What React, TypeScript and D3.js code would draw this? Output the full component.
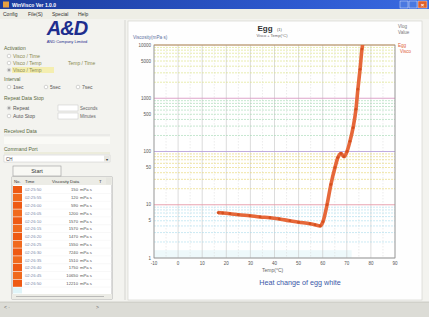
import * as d3 from "d3";

// curve: temperature (°C) vs viscosity (mPa·s)
const tempC = [16.6, 18.5, 21.5, 25, 29.8, 34, 38.1, 42, 46.4, 50, 54.7, 56.8, 58.9, 60.1, 61.8, 63.4, 65.1, 66.3, 67.6, 68.8, 70.1, 71.3, 72.6, 73.8, 74.6, 75.5, 76.3, 76.7];
const viscosity = [7.1, 7.0, 6.8, 6.5, 6.2, 5.9, 5.7, 5.4, 5.0, 4.7, 4.4, 4.2, 4.0, 4.8, 10, 24, 50, 77, 92, 80, 100, 155, 280, 620, 1480, 3500, 8400, 11000];

const xTicks = [-10, 0, 10, 20, 30, 40, 50, 60, 70, 80, 90];
const yTicks = [1, 5, 10, 50, 100, 500, 1000, 5000, 10000];
const yTickLabels = ["1", "5", "10", "50", "100", "500", "1000", "5000", "10000"];
const decades = [1, 10, 100, 1000];
const decadeColors = ["#a8dcec", "#e6d46a", "#9fd6b0", "#d9e07a"];
const majorLineColors = ["#c9c9c9", "#e59aa8", "#b9a4dc", "#d99ac4", "#f0a44a"];

const rowTimes = ["02:25:50", "02:25:55", "02:26:00", "02:26:05", "02:26:10", "02:26:15", "02:26:20", "02:26:25", "02:26:30", "02:26:35", "02:26:40", "02:26:45", "02:26:50"];
const rowValues = ["150", "120", "590", "1200", "1570", "1570", "1470", "1550", "7240", "1510", "1750", "10650", "12210"];

const W = 429;
const H = 317;
const plot = { left: 154, right: 395, top: 45, bottom: 258 };
const font = "Liberation Sans, Arial, sans-serif";

export default function App() {
  const x = d3.scaleLinear().domain([-10, 90]).range([plot.left, plot.right]);
  const y = d3.scaleLog().domain([1, 10000]).range([plot.bottom, plot.top]);

  const line = d3
    .line<number>()
    .x((_, i) => x(tempC[i]))
    .y((d) => y(d))
    .curve(d3.curveMonotoneX);

  const minorY: { v: number; c: string }[] = [];
  decades.forEach((d, di) => {
    for (let m = 2; m <= 9; m++) minorY.push({ v: d * m, c: decadeColors[di] });
  });
  const minorX = d3.range(-5, 90, 10);

  const rowH = 7.8;
  const tableTop = 177;

  return (
    <svg width={W} height={H} style={{ position: "absolute", left: 0, top: 0, fontFamily: font }}>
      <defs>
        <linearGradient id="title" x1="0" x2="1">
          <stop offset="0" stopColor="#1c3c9c" />
          <stop offset="0.7" stopColor="#2e5ad0" />
          <stop offset="1" stopColor="#3a6ae0" />
        </linearGradient>
        <clipPath id="plot-clip">
          <rect x={plot.left} y={plot.top} width={plot.right - plot.left} height={plot.bottom - plot.top} />
        </clipPath>
      </defs>

      {/* window */}
      <rect width={W} height={H} fill="#f3f3ef" />
      <rect width={W} height={9} fill="url(#title)" />
      <text x={12} y={6.5} fontSize={5} fill="#fff" fontWeight="bold">WinVisco Ver 1.0.0</text>
      <rect x={3} y={1.5} width={6} height={6} fill="#e8a040" />
      <rect x={400} y={1} width={8} height={7} fill="#4a78e0" stroke="#fff" strokeWidth={0.4} />
      <rect x={409} y={1} width={8} height={7} fill="#4a78e0" stroke="#fff" strokeWidth={0.4} />
      <rect x={418} y={1} width={9} height={7} fill="#e0602a" stroke="#fff" strokeWidth={0.4} />
      <text x={422.5} y={6.5} fontSize={6} fill="#fff" textAnchor="middle" fontWeight="bold">×</text>
      <rect x={0} y={9} width={W} height={10} fill="#eeeee6" />
      <text x={3} y={16} fontSize={5} fill="#333">Config</text>
      <text x={28} y={16} fontSize={5} fill="#333">File(S)</text>
      <text x={52} y={16} fontSize={5} fill="#333">Special</text>
      <text x={78} y={16} fontSize={5} fill="#333">Help</text>
      <rect x={0} y={302} width={W} height={15} fill="#dcdcd6" />
      <line x1={0} y1={302} x2={W} y2={302} stroke="#b8b8b0" strokeWidth={0.6} />

      {/* left panel */}
      <line x1={125} y1={20} x2={125} y2={300} stroke="#c4c4bc" strokeWidth={0.6} />
      <text x={67} y={35} fontSize={20} fontWeight="bold" fontStyle="italic" fill="#1e2e8e" textAnchor="middle" letterSpacing={-1}>A&amp;D</text>
      <text x={67} y={43} fontSize={4} fill="#1e2e8e" textAnchor="middle">AND Company Limited</text>

      <text x={4} y={50} fontSize={5} fill="#5a6a40">Activation</text>
      <circle cx={9} cy={56} r={1.8} fill="#fff" stroke="#999" strokeWidth={0.4} />
      <text x={13} y={58} fontSize={5} fill="#8a8a50">Visco / Time</text>
      <circle cx={9} cy={63} r={1.8} fill="#fff" stroke="#999" strokeWidth={0.4} />
      <text x={13} y={65} fontSize={5} fill="#8a8a50">Visco / Temp</text>
      <text x={68} y={65} fontSize={5} fill="#8a8a50">Temp / Time</text>
      <circle cx={9} cy={70} r={1.8} fill="#fff" stroke="#999" strokeWidth={0.4} />
      <circle cx={9} cy={70} r={0.8} fill="#333" />
      <rect x={12} y={67} width={42} height={6} fill="#f4eeb0" />
      <text x={13} y={72} fontSize={5} fill="#8a8a50">Visco / Temp</text>

      <text x={4} y={81} fontSize={5} fill="#5a6a40">Interval</text>
      <circle cx={9} cy={87} r={1.8} fill="#fff" stroke="#999" strokeWidth={0.4} />
      <text x={13} y={89} fontSize={5} fill="#555">1sec</text>
      <circle cx={46} cy={87} r={1.8} fill="#fff" stroke="#999" strokeWidth={0.4} />
      <text x={50} y={89} fontSize={5} fill="#555">5sec</text>
      <circle cx={78} cy={87} r={1.8} fill="#fff" stroke="#999" strokeWidth={0.4} />
      <text x={82} y={89} fontSize={5} fill="#555">7sec</text>

      <text x={4} y={100} fontSize={5} fill="#5a6a40">Repeat Data Stop</text>
      <circle cx={9} cy={108} r={1.8} fill="#fff" stroke="#999" strokeWidth={0.4} />
      <circle cx={9} cy={108} r={0.8} fill="#333" />
      <text x={13} y={110} fontSize={5} fill="#555">Repeat</text>
      <rect x={58} y={105} width={20} height={6} fill="#fff" stroke="#bbb" strokeWidth={0.4} />
      <text x={80} y={110} fontSize={4.5} fill="#666">Seconds</text>
      <circle cx={9} cy={116} r={1.8} fill="#fff" stroke="#999" strokeWidth={0.4} />
      <text x={13} y={118} fontSize={5} fill="#555">Auto Stop</text>
      <rect x={58} y={113} width={20} height={6} fill="#fff" stroke="#bbb" strokeWidth={0.4} />
      <text x={80} y={118} fontSize={4.5} fill="#666">Minutes</text>

      <text x={4} y={133} fontSize={5} fill="#5a6a40">Received Data</text>
      <line x1={4} y1={135} x2={110} y2={135} stroke="#ccc" strokeWidth={0.5} />
      <rect x={4} y={137} width={106} height={7} fill="#fafaf6" />

      <text x={4} y={151} fontSize={5} fill="#5a6a40">Command Port</text>
      <line x1={4} y1={153} x2={110} y2={153} stroke="#d6d6a0" strokeWidth={0.5} />
      <rect x={4} y={155} width={106} height={7} fill="#fff" stroke="#bbb" strokeWidth={0.4} />
      <text x={6} y={160.5} fontSize={4.5} fill="#444">CH</text>
      <rect x={104} y={155.5} width={5.5} height={6} fill="#e6e6e0" />
      <text x={106.7} y={160.5} fontSize={4} fill="#333" textAnchor="middle">▾</text>
      <rect x={13} y={166} width={48} height={10} fill="#f8f8f4" stroke="#999" strokeWidth={0.6} />
      <text x={37} y={173} fontSize={5.5} fill="#333" textAnchor="middle">Start</text>

      {/* data table */}
      <rect x={12} y={tableTop} width={100} height={122} fill="#fff" stroke="#888" strokeWidth={0.6} />
      <rect x={12} y={tableTop} width={100} height={8} fill="#ecece6" />
      <text x={14} y={tableTop + 6} fontSize={4.3} fill="#333">No.</text>
      <text x={25} y={tableTop + 6} fontSize={4.3} fill="#333">Time</text>
      <text x={52} y={tableTop + 6} fontSize={4.3} fill="#333">Viscosity Data</text>
      <text x={99} y={tableTop + 6} fontSize={4.3} fill="#333">T</text>
      <rect x={106} y={tableTop + 0.5} width={5.5} height={7} fill="#e6e6e0" />
      {rowTimes.map((t, i) => {
        const ry = tableTop + 9 + i * rowH;
        return (
          <g key={t}>
            <rect x={13} y={ry} width={9} height={rowH - 0.6} fill={i % 2 ? "#f06a1e" : "#ee5a14"} />
            <line x1={22} y1={ry + rowH - 0.3} x2={112} y2={ry + rowH - 0.3} stroke="#eee" strokeWidth={0.4} />
            <text x={25} y={ry + 5.4} fontSize={4.2} fill="#7a88a8">{t}</text>
            <text x={78} y={ry + 5.4} fontSize={4.2} fill="#555" textAnchor="end">{rowValues[i]}</text>
            <text x={80} y={ry + 5.4} fontSize={4.2} fill="#555">mPa s</text>
          </g>
        );
      })}
      <rect x={13} y={tableTop + 9 + rowTimes.length * rowH} width={9} height={6} fill="#dff4f8" />
      <rect x={12} y={294} width={100} height={5} fill="#ecece6" />
      <line x1={16} y1={296.5} x2={104} y2={296.5} stroke="#999" strokeWidth={0.6} />
      <text x={4} y={309} fontSize={5} fill="#666">&lt;  ·</text>
      <text x={96} y={309} fontSize={5} fill="#666">&gt;</text>

      {/* chart frame */}
      <rect x={128} y={21} width={294} height={279} fill="#fefefe" stroke="#d0d0c8" strokeWidth={0.6} />
      <text x={133} y={39} fontSize={4.6} fill="#6070a0">Viscosity(mPa·s)</text>
      <text x={265} y={31} fontSize={8} fontWeight="bold" fill="#333" textAnchor="middle">Egg</text>
      <text x={277} y={31} fontSize={4} fill="#555">(1)</text>
      <text x={272} y={37} fontSize={4} fill="#666" textAnchor="middle">Visco + Temp(°C)</text>
      <text x={398} y={28} fontSize={4.5} fill="#777">Vlog</text>
      <text x={398} y={34} fontSize={4.5} fill="#777">Value</text>
      <text x={398} y={47} fontSize={4.5} fill="#e0603a">Egg</text>
      <text x={400} y={53} fontSize={4.5} fill="#e0603a">Visco</text>

      {/* grid */}
      <rect x={plot.left} y={plot.top} width={plot.right - plot.left} height={plot.bottom - plot.top} fill="#fff" />
      <rect x={plot.left} y={y(1.4)} width={x(72) - plot.left} height={plot.bottom - y(1.4)} fill="#eef9fb" />
      {minorX.map((v) => (
        <line key={"mx" + v} x1={x(v)} x2={x(v)} y1={plot.top} y2={plot.bottom} stroke="#d8d8d8" strokeWidth={0.5} strokeDasharray="1.5,1.5" />
      ))}
      {xTicks.map((v) => (
        <line key={"gx" + v} x1={x(v)} x2={x(v)} y1={plot.top} y2={plot.bottom} stroke="#c4c4c4" strokeWidth={0.6} />
      ))}
      {minorY.map((m) => (
        <line key={"my" + m.v} x1={plot.left} x2={plot.right} y1={y(m.v)} y2={y(m.v)} stroke={m.c} strokeWidth={0.6} strokeDasharray="2,1" />
      ))}
      {[1, 10, 100, 1000, 10000].map((v, i) => (
        <line key={"gy" + v} x1={plot.left} x2={plot.right} y1={y(v)} y2={y(v)} stroke={majorLineColors[i]} strokeWidth={0.9} />
      ))}
      <rect x={plot.left} y={plot.top} width={plot.right - plot.left} height={plot.bottom - plot.top} fill="none" stroke="#8a8a8a" strokeWidth={0.7} />

      {/* axes labels */}
      {yTicks.map((v, i) => (
        <text key={"yl" + v} x={plot.left - 3} y={y(v) + 1.6} fontSize={4.5} fill="#555" textAnchor="end">{yTickLabels[i]}</text>
      ))}
      {xTicks.map((v) => (
        <text key={"xl" + v} x={x(v)} y={plot.bottom + 7} fontSize={4.5} fill="#555" textAnchor="middle">{v}</text>
      ))}
      <text x={262} y={272} fontSize={5} fill="#666">Temp(°C)</text>
      <text x={300} y={285} fontSize={7.2} fill="#3a58a8" textAnchor="middle">Heat change of egg white</text>

      {/* curve */}
      <g clipPath="url(#plot-clip)">
        <path d={line(viscosity) ?? ""} fill="none" stroke="#e6683a" strokeWidth={3.6} strokeLinejoin="round" />
        {viscosity.map((v, i) => (
          <circle key={"p" + i} cx={x(tempC[i])} cy={y(v)} r={1.4} fill="#d4501e" />
        ))}
      </g>
    </svg>
  );
}
